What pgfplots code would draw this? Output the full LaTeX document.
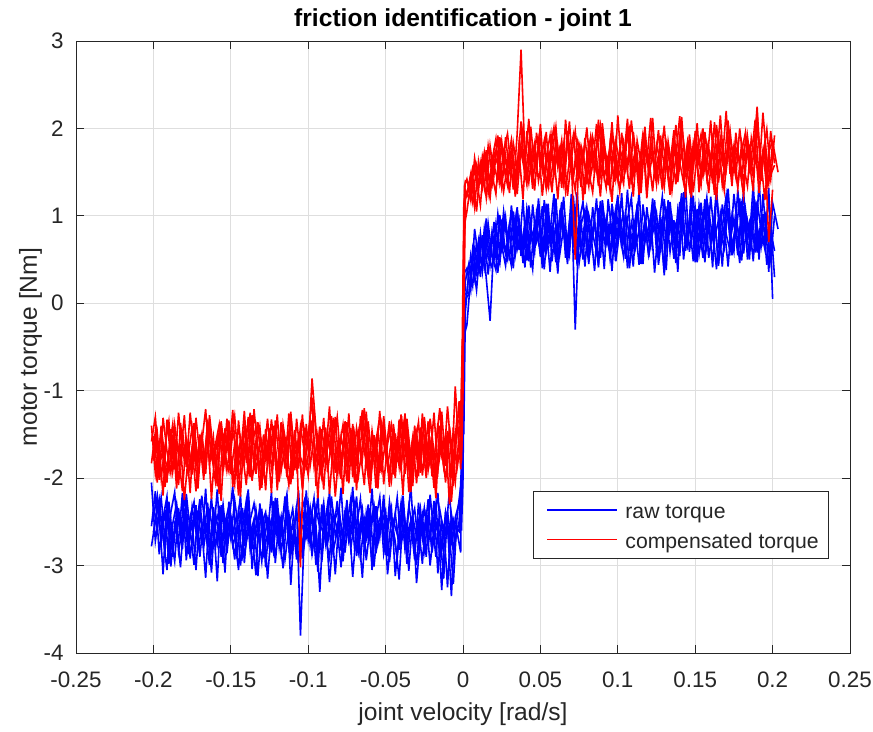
\documentclass[border=0pt]{standalone}
\usepackage{fontspec}
\setmainfont{Liberation Sans}
\usepackage{pgfplots}
\pgfplotsset{compat=1.18}
\usepackage{pgfplotstable}
\definecolor{axgray}{gray}{0.15}
\definecolor{gridgray}{gray}{0.87}
\definecolor{rawblue}{rgb}{0,0,1}
\definecolor{compred}{rgb}{1,0,0}

\pgfplotstableread{
x b1 b2 b3 r1 r2 r3
-0.2000 -2.31 -2.44 -2.62 -1.52 -1.80 -1.64
-0.1975 -2.58 -2.20 -2.35 -1.88 -1.48 -2.05
-0.1950 -2.22 -2.75 -2.49 -1.45 -2.00 -1.40
-0.1925 -2.71 -2.36 -2.83 -2.10 -1.63 -1.79
-0.1900 -2.45 -2.98 -2.27 -1.69 -1.35 -1.93
-0.1875 -2.90 -2.52 -2.70 -1.38 -1.92 -1.50
-0.1850 -2.38 -2.29 -2.56 -1.95 -1.57 -2.12
-0.1825 -2.62 -2.68 -3.02 -1.61 -1.76 -1.37
-0.1800 -2.19 -2.41 -2.40 -2.25 -1.28 -1.81
-0.1775 -2.77 -2.87 -2.58 -1.74 -1.98 -1.58
-0.1750 -2.50 -2.33 -2.73 -1.42 -1.65 -1.96
-0.1725 -3.05 -2.61 -2.31 -1.83 -2.15 -1.31
-0.1700 -2.41 -2.24 -2.90 -1.56 -1.50 -1.73
-0.1675 -2.66 -2.79 -2.45 -2.02 -1.84 -1.87
-0.1650 -2.28 -2.47 -2.64 -1.33 -1.39 -1.45
-0.1625 -2.84 -3.08 -2.22 -1.77 -1.71 -2.24
-0.1600 -2.55 -2.39 -2.79 -1.64 -2.03 -1.62
-0.1575 -2.36 -2.66 -2.51 -2.18 -1.46 -1.39
-0.1550 -2.97 -2.30 -2.38 -1.49 -1.87 -1.90
-0.1525 -2.48 -2.73 -2.86 -1.91 -1.32 -1.55
-0.1500 -2.70 -2.55 -2.43 -1.58 -1.95 -1.77
-0.1475 -2.25 -2.93 -2.67 -1.29 -1.61 -2.07
-0.1450 -2.59 -2.37 -3.05 -1.86 -2.20 -1.34
-0.1425 -2.88 -2.58 -2.34 -1.70 -1.54 -1.85
-0.1400 -2.33 -2.26 -2.74 -2.08 -1.78 -1.48
-0.1375 -2.64 -2.82 -2.48 -1.47 -1.25 -1.99
-0.1350 -2.47 -2.49 -2.29 -1.80 -1.90 -1.21
-0.1325 -3.12 -2.71 -2.60 -1.36 -1.68 -1.70
-0.1300 -2.52 -2.35 -2.95 -1.97 -2.11 -1.56
-0.1275 -2.39 -3.02 -2.42 -1.63 -1.44 -2.14
-0.1250 -2.81 -2.46 -2.57 -1.75 -1.83 -1.43
-0.1225 -2.26 -2.69 -2.84 -1.40 -1.52 -1.86
-0.1200 -2.68 -2.23 -2.36 -2.14 -1.99 -1.27
-0.1175 -2.44 -2.85 -2.65 -1.55 -1.36 -1.92
-0.1150 -2.93 -2.53 -2.21 -1.89 -1.74 -1.61
-0.1125 -2.57 -2.40 -2.78 -1.26 -2.08 -1.47
-0.1100 -2.35 -2.77 -2.50 -1.72 -1.59 -2.01
-0.1075 -2.76 -2.31 -2.93 -1.60 -1.88 -1.32
-0.1050 -2.49 -3.80 -2.44 -3.02 -1.41 -1.76
-0.1025 -2.62 -2.62 -2.26 -1.45 -1.69 -1.88
-0.1000 -2.30 -2.43 -2.71 -1.68 -1.97 -1.52
-0.0975 -2.86 -2.89 -2.39 -0.86 -1.34 -1.08
-0.0950 -2.54 -2.34 -2.99 -1.44 -1.81 -2.09
-0.0925 -3.30 -2.57 -2.53 -1.82 -1.56 -1.41
-0.0900 -2.43 -2.28 -2.63 -1.31 -2.13 -1.83
-0.0875 -2.72 -2.74 -2.30 -1.93 -1.47 -1.66
-0.0850 -2.21 -2.50 -2.87 -1.57 -1.76 -1.29
-0.0825 -2.65 -3.10 -2.46 -2.21 -1.30 -1.94
-0.0800 -2.51 -2.42 -2.35 -1.66 -1.93 -1.54
-0.0775 -2.95 -2.66 -2.76 -1.39 -1.62 -2.18
-0.0750 -2.37 -2.25 -2.55 -1.85 -2.04 -1.36
-0.0725 -2.60 -2.80 -2.24 -1.53 -1.43 -1.80
-0.0700 -2.29 -2.48 -2.82 -2.05 -1.86 -1.49
-0.0675 -2.83 -2.63 -2.61 -1.48 -1.58 -1.97
-0.0650 -2.46 -2.36 -3.14 -1.78 -1.22 -1.63
-0.0625 -2.69 -2.94 -2.40 -1.24 -1.79 -1.33
-0.0600 -2.34 -2.54 -2.68 -1.90 -2.17 -2.02
-0.0575 -3.01 -2.32 -2.33 -1.62 -1.51 -1.71
-0.0550 -2.53 -2.70 -2.75 -2.12 -1.89 -1.44
-0.0525 -2.40 -2.45 -2.52 -1.46 -1.38 -1.89
-0.0500 -2.78 -2.88 -2.37 -1.73 -1.66 -1.57
-0.0475 -2.27 -2.39 -2.96 -1.35 -2.01 -2.10
-0.0450 -2.61 -2.59 -2.49 -1.96 -1.45 -1.38
-0.0425 -2.91 -2.22 -2.64 -1.59 -1.82 -1.75
-0.0400 -2.45 -2.76 -2.28 -1.84 -1.27 -1.91
-0.0375 -2.73 -2.51 -2.81 -1.41 -1.95 -1.26
-0.0350 -2.32 -3.06 -2.57 -2.16 -1.60 -1.84
-0.0325 -2.58 -2.44 -2.43 -1.67 -2.09 -1.53
-0.0300 -2.99 -2.67 -3.20 -1.51 -1.49 -2.06
-0.0275 -2.42 -2.35 -2.66 -1.94 -1.77 -1.42
-0.0250 -2.67 -2.83 -2.34 -1.30 -1.33 -1.81
-0.0225 -2.24 -2.47 -2.72 -1.79 -1.91 -1.35
-0.0200 -2.85 -2.60 -2.48 -1.60 -1.64 -1.98
-0.0175 -2.50 -2.29 -2.90 -2.06 -2.23 -1.60
-0.0150 -2.63 -2.92 -2.36 -1.43 -1.40 -1.20
-0.0125 -3.15 -2.53 -2.62 -1.87 -1.85 -1.87
-0.0100 -2.38 -3.25 -2.53 -1.55 -1.18 -1.46
-0.0075 -2.74 -2.41 -3.35 -2.00 -1.73 -2.27
-0.0050 -2.56 -2.70 -2.45 -0.95 -2.05 -1.67
-0.0025 -2.61 -2.50 -2.28 -1.71 -1.50 -1.12
-0.0010 -2.20 -1.85 -2.60 -1.45 -1.25 -1.80
0.0000 -1.40 -0.60 -2.00 -0.40 0.30 -1.00
0.0010 0.10 -0.35 0.35 1.15 1.35 0.90
0.0025 0.12 -0.25 0.40 1.25 1.42 1.05
0.0050 0.55 0.30 0.15 1.48 1.18 1.37
0.0075 0.28 0.62 0.85 1.10 1.66 1.55
0.0100 0.71 0.38 0.52 1.62 1.37 1.30
0.0125 0.36 0.78 0.44 1.33 1.55 1.68
0.0150 0.82 0.29 0.97 1.75 1.21 1.44
0.0175 0.45 -0.20 0.58 1.28 1.80 1.20
0.0200 0.93 0.72 0.49 1.58 1.47 1.73
0.0225 0.52 0.35 1.02 1.40 1.92 1.58
0.0250 0.60 0.96 0.66 1.85 1.35 1.32
0.0275 0.98 0.58 0.43 1.46 1.69 1.90
0.0300 0.49 0.83 0.89 1.72 1.26 1.50
0.0325 1.05 0.40 0.71 1.30 1.83 1.64
0.0350 0.62 1.06 1.10 1.94 1.54 1.25
0.0375 0.84 0.64 0.54 2.90 2.08 1.79
0.0400 0.41 0.90 0.92 1.66 1.43 1.57
0.0425 1.12 0.48 0.67 1.38 1.77 2.11
0.0450 0.66 1.13 0.39 1.81 1.31 1.42
0.0475 0.95 0.70 1.04 1.52 1.95 1.68
0.0500 0.53 0.85 0.81 2.05 1.60 1.86
0.0525 1.18 0.39 0.63 1.44 1.86 1.53
0.0550 0.72 0.99 1.14 1.70 1.39 1.33
0.0575 0.88 0.75 0.48 1.27 1.72 1.93
0.0600 0.47 1.20 0.90 1.88 2.02 1.61
0.0625 1.02 0.56 0.73 1.56 1.48 1.78
0.0650 0.79 0.87 1.22 1.35 1.81 1.40
0.0675 0.61 0.45 0.59 1.97 1.23 1.87
0.0700 1.25 1.04 0.84 1.61 1.65 1.55
0.0725 -0.30 0.68 1.00 0.50 1.97 1.29
0.0750 0.91 0.93 0.46 1.79 1.52 1.82
0.0775 0.50 1.16 0.79 1.18 1.75 1.63
0.0800 1.08 0.60 1.07 1.67 1.36 2.01
0.0825 0.76 0.82 0.62 1.90 1.89 1.46
0.0850 0.94 0.37 0.95 1.49 1.58 1.74
0.0875 0.44 1.09 0.41 2.10 1.44 1.34
0.0900 1.15 0.74 1.18 1.57 2.06 1.92
0.0925 0.68 0.97 0.77 1.32 1.63 1.60
0.0950 0.87 0.51 0.57 1.83 1.30 1.77
0.0975 0.57 0.88 1.03 1.63 1.84 1.39
0.1000 1.21 1.24 0.70 1.41 1.56 2.15
0.1025 0.74 0.63 1.26 1.95 1.40 1.54
0.1050 0.99 1.01 0.51 1.53 1.78 1.70
0.1075 0.40 0.79 0.88 1.74 1.99 1.31
0.1100 0.83 0.42 0.66 1.22 1.47 1.96
0.1125 1.10 1.14 1.11 1.86 1.70 1.58
0.1150 0.63 0.67 0.45 1.60 1.26 1.43
0.1175 0.92 0.94 0.98 2.02 1.91 1.85
0.1200 0.55 0.53 0.73 1.45 1.59 1.67
0.1225 0.80 1.06 1.20 1.71 2.12 1.28
0.1250 1.03 0.72 0.60 1.36 1.45 1.81
0.1275 0.58 0.86 0.92 1.92 1.67 1.62
0.1300 1.19 0.38 0.32 1.55 1.33 2.03
0.1325 0.73 1.18 1.05 1.78 1.85 1.47
0.1350 0.96 0.76 0.82 1.29 1.53 1.75
0.1375 0.46 0.91 0.64 1.68 2.04 1.36
0.1400 1.07 0.54 1.16 2.14 1.61 1.89
0.1425 0.81 1.27 0.50 1.50 1.38 1.56
0.1450 0.65 0.69 0.94 1.84 1.79 1.72
0.1475 1.28 0.99 0.76 1.39 1.50 1.21
0.1500 0.77 0.47 1.09 1.76 1.94 1.97
0.1525 0.89 1.12 0.56 1.58 1.27 1.64
0.1550 0.52 0.80 0.87 2.00 1.73 1.45
0.1575 1.14 0.61 1.21 1.43 1.57 1.83
0.1600 0.69 1.22 0.68 1.69 2.09 1.59
0.1625 1.00 0.74 0.99 1.24 1.46 2.07
0.1650 0.43 0.95 0.45 1.87 1.82 1.38
0.1675 0.86 0.42 1.13 1.62 1.35 1.76
0.1700 1.23 1.08 0.79 2.20 1.68 1.52
0.1725 0.71 0.83 0.60 1.48 1.98 1.90
0.1750 0.97 0.59 1.25 1.80 1.54 1.66
0.1775 0.55 1.30 0.85 1.34 1.76 1.32
0.1800 1.11 0.77 0.49 1.73 1.41 1.84
0.1825 0.78 0.98 1.07 1.96 1.88 1.60
0.1850 0.93 0.50 0.72 1.51 1.62 1.78
0.1875 0.48 1.15 1.36 1.66 1.28 1.44
0.1900 1.17 0.88 0.58 2.25 2.16 2.00
0.1925 0.84 0.64 0.95 1.40 1.55 1.63
0.1950 0.62 1.05 0.81 1.82 1.71 1.18
0.1975 1.32 0.36 1.19 0.70 1.37 1.74
0.2000 0.05 1.15 0.66 1.30 1.83 1.85
0.2035 nan 0.85 nan nan nan 1.50
}\dataA

\pgfplotstableread{
x c1 c2 c3 s1 s2 s3
-0.20125 -2.05 -2.55 -2.78 -1.40 -1.83 -1.58
-0.19875 -2.72 -2.15 -2.49 -1.95 -1.47 -1.30
-0.19625 -2.40 -2.87 -2.24 -1.62 -2.02 -1.86
-0.19375 -3.10 -2.46 -2.67 -2.20 -1.31 -1.67
-0.19125 -2.28 -2.21 -3.05 -1.33 -1.69 -2.05
-0.18875 -2.66 -3.01 -2.39 -1.78 -1.94 -1.44
-0.18625 -2.95 -2.53 -2.16 -1.52 -1.39 -1.90
-0.18375 -2.34 -2.71 -2.84 -2.08 -1.75 -1.25
-0.18125 -2.81 -2.17 -2.57 -1.45 -2.15 -1.73
-0.17875 -2.18 -2.94 -2.31 -1.87 -1.56 -1.60
-0.17625 -2.60 -2.44 -2.92 -1.25 -1.88 -2.17
-0.17375 -2.99 -2.27 -2.45 -1.70 -1.44 -1.37
-0.17125 -2.37 -2.82 -2.70 -2.12 -1.98 -1.81
-0.16875 -2.74 -2.58 -2.20 -1.48 -1.60 -1.51
-0.16625 -2.12 -3.14 -2.61 -1.90 -1.21 -1.95
-0.16375 -2.88 -2.35 -2.99 -1.36 -1.85 -1.28
-0.16125 -2.48 -2.69 -2.33 -1.81 -1.53 -1.70
-0.15875 -3.18 -2.13 -2.76 -1.58 -2.09 -2.02
-0.15625 -2.31 -2.90 -2.50 -2.26 -1.35 -1.46
-0.15375 -2.69 -2.51 -3.08 -1.43 -1.72 -1.84
-0.15125 -2.53 -2.32 -2.27 -1.76 -1.92 -1.34
-0.14875 -2.09 -2.77 -2.65 -1.22 -1.48 -2.10
-0.14625 -2.92 -2.61 -2.42 -1.97 -1.66 -1.56
-0.14375 -2.42 -2.19 -3.00 -1.55 -2.21 -1.79
-0.14125 -2.78 -2.97 -2.55 -1.84 -1.40 -1.23
-0.13875 -2.20 -2.43 -2.13 -1.30 -1.81 -1.93
-0.13625 -3.04 -2.66 -2.81 -2.03 -1.28 -1.62
-0.13375 -2.57 -3.11 -2.36 -1.66 -1.95 -1.41
-0.13125 -2.35 -2.29 -2.72 -1.41 -1.58 -2.14
-0.12875 -2.86 -2.74 -2.48 -1.93 -1.74 -1.50
-0.12625 -2.63 -2.48 -3.15 -1.57 -1.32 -1.85
-0.12375 -2.16 -2.85 -2.58 -2.17 -1.89 -1.33
-0.12125 -2.97 -2.23 -2.29 -1.34 -1.63 -1.74
-0.11875 -2.45 -2.62 -2.79 -1.80 -2.04 -1.98
-0.11625 -2.70 -3.03 -2.44 -1.49 -1.45 -1.39
-0.11375 -2.27 -2.38 -2.18 -1.99 -1.77 -1.68
-0.11125 -3.22 -2.80 -2.88 -1.27 -1.24 -2.07
-0.10875 -2.52 -2.54 -2.62 -1.73 -1.91 -1.45
-0.10625 -2.38 -2.14 -2.97 -1.60 -1.52 -1.89
-0.10375 -2.83 -2.92 -2.34 -2.10 -2.13 -1.27
-0.10125 -2.14 -2.59 -2.68 -1.38 -1.67 -1.91
-0.09875 -2.76 -2.33 -2.52 -1.86 -1.34 -1.55
-0.09625 -2.47 -2.72 -2.23 -1.53 -1.86 -1.21
-0.09375 -3.07 -2.18 -2.91 -2.23 -1.50 -1.78
-0.09125 -2.30 -2.96 -2.41 -1.44 -1.99 -2.00
-0.08875 -2.68 -2.45 -2.75 -1.75 -1.42 -1.48
-0.08625 -2.91 -3.19 -2.15 -1.18 -2.18 -1.65
-0.08375 -2.39 -2.64 -2.83 -1.91 -1.61 -1.31
-0.08125 -2.59 -2.26 -2.60 -1.63 -1.30 -1.96
-0.07875 -2.11 -2.83 -3.02 -2.01 -1.84 -1.52
-0.07625 -2.85 -2.40 -2.37 -1.35 -1.55 -1.80
-0.07375 -2.43 -2.68 -2.73 -1.82 -2.06 -1.26
-0.07125 -3.13 -2.10 -2.56 -1.50 -1.38 -1.99
-0.06875 -2.56 -2.89 -2.21 -2.14 -1.79 -1.43
-0.06625 -2.24 -2.52 -2.94 -1.29 -1.62 -1.71
-0.06375 -2.79 -2.75 -2.46 -1.69 -1.20 -2.08
-0.06125 -2.50 -2.30 -2.69 -1.96 -1.93 -1.35
-0.05875 -2.96 -3.05 -2.12 -1.46 -1.49 -1.83
-0.05625 -2.32 -2.47 -2.86 -1.79 -2.11 -1.57
-0.05375 -2.67 -2.22 -2.53 -1.23 -1.71 -1.94
-0.05125 -2.19 -2.86 -2.30 -2.07 -1.43 -1.29
-0.04875 -2.89 -2.57 -3.10 -1.61 -1.87 -1.76
-0.04625 -2.46 -2.34 -2.64 -1.39 -1.57 -2.03
-0.04375 -2.73 -3.12 -2.40 -1.88 -2.00 -1.49
-0.04125 -3.16 -2.63 -2.82 -1.54 -1.33 -1.87
-0.03875 -2.41 -2.20 -2.25 -2.19 -1.76 -1.36
-0.03625 -2.62 -2.78 -2.98 -1.32 -1.46 -1.63
-0.03375 -2.08 -2.49 -2.51 -1.77 -2.16 -2.12
-0.03125 -2.80 -2.93 -2.35 -1.47 -1.64 -1.40
-0.02875 -2.54 -2.28 -2.77 -1.98 -1.36 -1.82
-0.02625 -2.98 -2.70 -2.43 -1.26 -1.97 -1.54
-0.02375 -2.36 -2.44 -2.90 -1.85 -1.54 -2.00
-0.02125 -2.71 -3.00 -2.19 -1.59 -1.82 -1.32
-0.01875 -2.26 -2.56 -2.66 -2.11 -1.25 -1.70
-0.01625 -3.09 -2.17 -2.52 -1.37 -1.90 -1.92
-0.01375 -2.49 -2.84 -3.28 -1.74 -1.60 -1.24
-0.01125 -2.64 -2.39 -2.38 -1.51 -2.05 -1.86
-0.00875 -2.15 -2.65 -2.80 -2.30 -1.41 -1.47
-0.00625 -2.87 -3.21 -2.47 -1.42 -1.78 -2.09
-0.00375 -2.58 -2.42 -2.62 -1.88 -1.28 -1.38
-0.0015 -2.45 -2.10 -2.85 -1.60 -1.90 -1.30
-0.0005 -1.80 -2.30 -1.20 -1.00 -1.50 -0.50
0.0005 -0.80 -0.20 -1.50 0.40 1.10 -0.20
0.0015 0.05 0.25 -0.10 1.30 1.40 1.20
0.00375 0.10 0.45 0.35 1.20 1.38 1.30
0.00625 0.62 0.20 0.48 1.45 1.15 1.55
0.00875 0.35 0.70 0.15 1.05 1.58 1.42
0.01125 0.80 0.30 0.68 1.60 1.40 1.12
0.01375 0.42 0.85 0.75 1.32 1.72 1.68
0.01625 0.91 0.52 0.33 1.80 1.26 1.50
0.01875 0.55 0.41 0.82 1.48 1.63 1.35
0.02125 0.38 0.90 0.60 1.25 1.88 1.74
0.02375 1.01 0.57 0.45 1.90 1.39 1.62
0.02625 0.64 1.05 0.92 1.56 1.75 1.28
0.02875 0.50 0.66 0.78 1.35 1.94 1.60
0.03125 1.12 0.43 1.03 1.78 1.50 1.87
0.03375 0.70 0.97 0.55 1.22 1.28 1.45
0.03625 0.95 0.61 0.87 1.65 1.84 1.71
0.03875 0.46 1.18 0.63 2.00 1.61 1.19
0.04125 1.08 0.49 1.00 1.41 1.36 1.97
0.04375 0.79 0.86 0.41 1.73 2.02 1.53
0.04625 0.58 0.72 0.94 1.29 1.55 1.82
0.04875 1.20 1.04 0.70 1.86 1.79 1.40
0.05125 0.67 0.40 1.11 1.52 1.23 1.66
0.05375 0.89 1.14 0.58 1.96 1.66 1.31
0.05625 0.36 0.68 0.81 1.38 1.92 1.74
0.05875 1.03 0.83 1.25 1.68 1.47 2.01
0.06125 0.75 0.34 0.49 1.19 1.77 1.56
0.06375 1.16 1.09 0.96 1.82 1.32 1.86
0.06625 0.52 0.76 0.66 1.57 2.10 1.29
0.06875 0.93 0.55 0.84 2.08 1.59 1.63
0.07125 0.69 1.23 1.13 1.45 1.43 1.92
0.07375 1.27 0.65 0.43 1.71 1.87 1.48
0.07625 0.60 0.95 0.90 1.33 1.70 1.80
0.07875 0.84 0.42 1.07 1.89 1.25 1.59
0.08125 0.45 1.01 0.61 1.50 1.81 1.34
0.08375 1.10 0.80 0.76 1.27 1.57 1.90
0.08625 0.73 0.58 1.20 1.76 2.05 1.68
0.08875 0.97 1.17 0.52 2.03 1.46 1.22
0.09125 0.39 0.69 0.98 1.44 1.73 1.81
0.09375 1.19 0.88 0.68 1.64 1.35 1.55
0.09625 0.81 0.37 1.14 1.16 1.95 2.07
0.09875 0.62 1.06 0.48 1.85 1.62 1.43
0.10125 1.05 0.79 0.85 1.59 1.28 1.76
0.10375 0.71 0.53 1.02 1.37 1.83 1.64
0.10625 1.30 0.96 0.40 1.99 1.51 2.11
0.10875 0.54 1.21 0.93 1.54 2.09 1.36
0.11125 0.88 0.62 0.73 1.74 1.67 1.72
0.11375 0.44 0.84 1.28 1.24 1.40 1.52
0.11625 1.13 0.45 0.57 1.91 1.86 1.95
0.11875 0.77 1.10 0.82 1.62 1.20 1.27
0.12125 0.99 0.74 0.65 2.12 1.76 1.85
0.12375 0.35 0.91 1.18 1.47 1.54 1.58
0.12625 0.86 0.56 0.44 1.69 1.98 1.40
0.12875 1.22 0.99 0.80 1.30 1.45 1.88
0.13125 0.66 0.38 1.05 1.84 1.69 1.61
0.13375 0.94 1.16 0.59 1.58 1.33 1.24
0.13625 0.51 0.71 0.95 1.98 1.90 1.79
0.13875 1.07 0.87 0.36 1.39 1.64 1.46
0.14125 0.78 1.26 1.17 1.77 2.13 2.02
0.14375 1.35 0.60 0.70 1.21 1.49 1.67
0.14625 0.59 0.93 0.89 1.93 1.80 1.32
0.14875 0.90 0.48 1.23 1.53 1.27 1.83
0.15125 0.47 1.08 0.54 2.06 1.71 1.57
0.15375 1.15 0.67 0.91 1.42 1.93 1.35
0.15625 0.72 1.19 0.47 1.70 1.52 1.96
0.15875 0.98 0.52 1.06 1.26 1.78 1.51
0.16125 0.41 0.85 0.75 1.88 1.37 1.73
0.16375 1.24 0.39 1.32 1.61 2.04 1.18
0.16625 0.83 1.03 0.61 2.15 1.60 1.89
0.16875 0.63 0.77 0.88 1.49 1.29 1.62
0.17125 1.09 1.31 0.42 1.79 1.85 2.09
0.17375 0.55 0.64 1.00 1.34 1.68 1.44
0.17625 0.96 0.89 0.78 1.95 1.44 1.78
0.17875 0.74 0.46 1.20 1.56 2.00 1.65
0.18125 1.29 1.11 0.57 1.23 1.58 1.38
0.18375 0.50 0.73 0.94 1.83 1.34 1.91
0.18625 0.87 0.95 0.66 1.66 1.89 1.54
0.18875 1.12 0.58 1.08 2.10 1.63 1.81
0.19125 0.60 1.40 0.50 1.43 1.48 1.26
0.19375 1.02 0.70 1.25 1.75 2.18 1.70
0.19625 0.44 0.86 0.71 1.31 1.65 1.99
0.19875 0.92 0.50 0.83 1.97 1.41 1.47
0.20125 0.30 1.00 0.60 1.60 1.92 1.58
}\dataB

\begin{document}
\begin{tikzpicture}
\begin{axis}[
  scale only axis, width=387pt, height=306pt,
  xmin=-0.25, xmax=0.25, ymin=-4, ymax=3,
  xtick={-0.25,-0.2,-0.15,-0.1,-0.05,0,0.05,0.1,0.15,0.2,0.25},
  xticklabels={-0.25,-0.2,-0.15,-0.1,-0.05,0,0.05,0.1,0.15,0.2,0.25},
  ytick={-4,-3,-2,-1,0,1,2,3},
  yticklabels={-4,-3,-2,-1,0,1,2,3},
  tick pos=both, tick align=inside,
  major tick length=3.9pt,
  tick style={axgray, line width=0.4pt},
  axis line style={axgray, line width=0.4pt},
  grid=major, grid style={gridgray, line width=0.4pt},
  xticklabel style={font=\fontsize{11.2}{13.4}\selectfont, text=axgray, anchor=base, inner sep=0pt, yshift=-17pt},
  yticklabel style={font=\fontsize{11.2}{13.4}\selectfont, text=axgray, anchor=east, inner sep=0pt, xshift=-6pt},
  xlabel={joint velocity [rad/s]},
  ylabel={motor torque [Nm]},
  xlabel style={at={(0.5,-0.1111)}, anchor=base, inner sep=0pt, font=\fontsize{12.3}{14.5}\selectfont, text=axgray},
  ylabel style={at={(-0.0504,0.5)}, anchor=base, inner sep=0pt, font=\fontsize{12.3}{14.5}\selectfont, text=axgray},
  title={friction identification - joint 1},
  every axis title shift=0pt,
  title style={at={(0.5,1.0229)}, anchor=base, yshift=0pt, inner sep=0pt, font=\bfseries\fontsize{12.3}{14.5}\selectfont, text=black},
]
\addplot[rawblue, line width=0.8pt] table[x=x, y=b1] {\dataA};
\addplot[rawblue, line width=0.8pt] table[x=x, y=c1] {\dataB};
\addplot[rawblue, line width=0.8pt] table[x=x, y=b2] {\dataA};
\addplot[rawblue, line width=0.8pt] table[x=x, y=c2] {\dataB};
\addplot[rawblue, line width=0.8pt] table[x=x, y=b3] {\dataA};
\addplot[rawblue, line width=0.8pt] table[x=x, y=c3] {\dataB};
\addplot[compred, line width=0.8pt] table[x=x, y=r1] {\dataA};
\addplot[compred, line width=0.8pt] table[x=x, y=s1] {\dataB};
\addplot[compred, line width=0.8pt] table[x=x, y=r2] {\dataA};
\addplot[compred, line width=0.8pt] table[x=x, y=s2] {\dataB};
\addplot[compred, line width=0.8pt] table[x=x, y=r3] {\dataA};
\addplot[compred, line width=0.8pt] table[x=x, y=s3] {\dataB};
\end{axis}
% legend box (raw torque / compensated torque)
\begin{scope}[shift={(current axis.south east)}]
  \draw[axgray, line width=0.4pt, fill=white] (-158.5pt,47.5pt) rectangle (-11pt,81pt);
  \draw[rawblue, line width=0.6pt] (-151.5pt,71.5pt) -- (-116.5pt,71.5pt);
  \node[anchor=base west, inner sep=0pt, text=axgray, font=\fontsize{10.6}{12.5}\selectfont] at (-112.5pt,67pt) {raw torque};
  \draw[compred, line width=0.6pt] (-151.5pt,56.9pt) -- (-116.5pt,56.9pt);
  \node[anchor=base west, inner sep=0pt, text=axgray, font=\fontsize{10.6}{12.5}\selectfont] at (-112.5pt,52.4pt) {compensated torque};
\end{scope}
\pgfresetboundingbox
\path[use as bounding box] ([xshift=-38pt,yshift=-39pt]current axis.south west) rectangle ([xshift=11.5pt,yshift=20.5pt]current axis.north east);
\end{tikzpicture}
\end{document}
